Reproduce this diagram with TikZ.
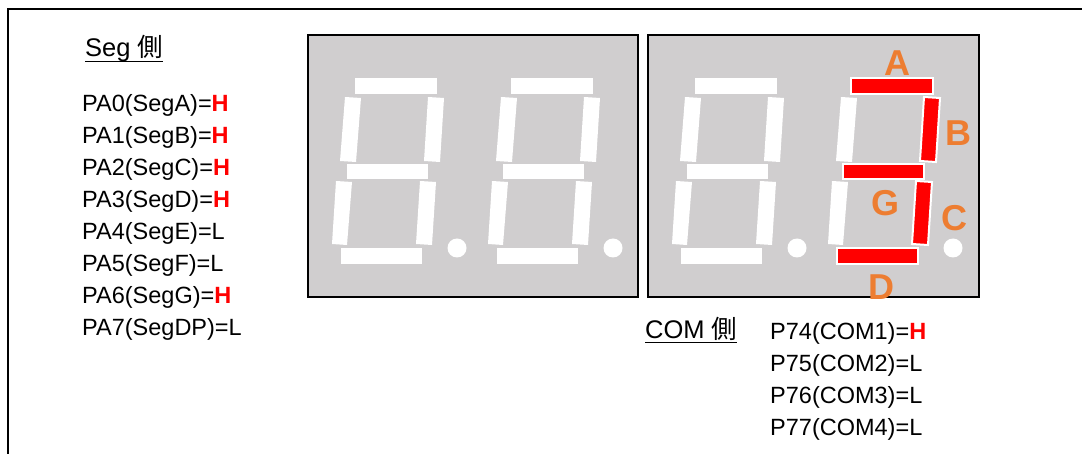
\documentclass[tikz,border=0pt]{standalone}
\usepackage{fontspec}
\setmainfont{Liberation Sans}
\newfontfamily\cjk{Noto Sans CJK JP}
\definecolor{panelgray}{RGB}{208,206,207}
\definecolor{labelorange}{RGB}{237,125,49}
% Level marks
\newcommand{\levH}{\textcolor{red}{\textbf{H}}}
% Segment outlines of the first digit (pixel grid, y downwards)
\newcommand{\segA}{(355,78) rectangle (437,94)}
\newcommand{\segG}{(347,164) rectangle (428,179)}
\newcommand{\segD}{(341,248) rectangle (422,264)}
\newcommand{\segF}{(345,97) -- (361,98) -- (356,162) -- (340,161) -- cycle}
\newcommand{\segB}{(428,97) -- (444,98) -- (440,162) -- (424,161) -- cycle}
\newcommand{\segE}{(336,181) -- (352,182) -- (347,245) -- (332,244) -- cycle}
\newcommand{\segC}{(420,181) -- (436,182) -- (432,245) -- (416,244) -- cycle}
\newcommand{\segDP}{(457,248) circle (9.5)}
\begin{document}
\begin{tikzpicture}[x=1pt, y=-1pt,
    panel/.style={draw=black, line width=2pt, fill=panelgray},
    segoff/.style={fill=white},
    segon/.style={fill=red, draw=white, line width=2pt},
    pin/.style={anchor=base west, inner sep=0pt, font=\fontsize{23.5}{28}\selectfont},
    sidehead/.style={pin, font=\fontsize{25.5}{30}\selectfont},
    seglabel/.style={text=labelorange, inner sep=0pt, font=\fontsize{36}{40}\selectfont\bfseries}]
  \useasboundingbox (0,0) rectangle (1082,454);
  % Outer frame (only top and left edges are visible)
  \coordinate (frameBL) at (8,454);
  \coordinate (frameTL) at (8,9);
  \coordinate (frameTR) at (1082,9);
  \draw[line width=1.5pt] (frameBL) -- (frameTL) -- (frameTR);
  % Display panels
  \draw[panel] (308,35) rectangle (638,297);
  \draw[panel] (648,35) rectangle (979,297);
  % Dark digits
  \foreach \dx in {0,156,340} {
    \begin{scope}[xshift=\dx pt]
      \fill[segoff] \segA;
      \fill[segoff] \segB;
      \fill[segoff] \segC;
      \fill[segoff] \segD;
      \fill[segoff] \segE;
      \fill[segoff] \segF;
      \fill[segoff] \segG;
      \fill[segoff] \segDP;
    \end{scope}
  }
  % Lit digit (COM1)
  \begin{scope}[xshift=496pt]
    \fill[segoff] \segE;
    \fill[segoff] \segF;
    \fill[segoff] \segDP;
    \filldraw[segon] \segA;
    \filldraw[segon] \segB;
    \filldraw[segon] \segC;
    \filldraw[segon] \segD;
    \filldraw[segon] \segG;
  \end{scope}
  % Segment names
  \node[seglabel] (labA) at (897,63)  {A};
  \node[seglabel] (labB) at (958,133) {B};
  \node[seglabel] (labG) at (885,203) {G};
  \node[seglabel] (labC) at (954,218) {C};
  \node[seglabel] (labD) at (881,287) {D};
  % Seg side
  \node[sidehead] (seghead) at (85,57) {Seg {\cjk 側}};
  \draw[line width=1pt] ([yshift=-4.5pt]seghead.base west) -- ([yshift=-4.5pt]seghead.base east);
  \node[pin] (pa0) at (82,112) {PA0(SegA)=\levH};
  \node[pin] (pa1) at (82,144) {PA1(SegB)=\levH};
  \node[pin] (pa2) at (82,176) {PA2(SegC)=\levH};
  \node[pin] (pa3) at (82,208) {PA3(SegD)=\levH};
  \node[pin] (pa4) at (82,240) {PA4(SegE)=L};
  \node[pin] (pa5) at (82,272) {PA5(SegF)=L};
  \node[pin] (pa6) at (82,304) {PA6(SegG)=\levH};
  \node[pin] (pa7) at (82,336) {PA7(SegDP)=L};
  % COM side
  \node[sidehead] (comhead) at (645,339) {COM {\cjk 側}};
  \draw[line width=1pt] ([yshift=-3.5pt]comhead.base west) -- ([yshift=-3.5pt]comhead.base east);
  \node[pin] (p74) at (770,340) {P74(COM1)=\levH};
  \node[pin] (p75) at (770,372) {P75(COM2)=L};
  \node[pin] (p76) at (770,403) {P76(COM3)=L};
  \node[pin] (p77) at (770,435) {P77(COM4)=L};
\end{tikzpicture}
\end{document}
